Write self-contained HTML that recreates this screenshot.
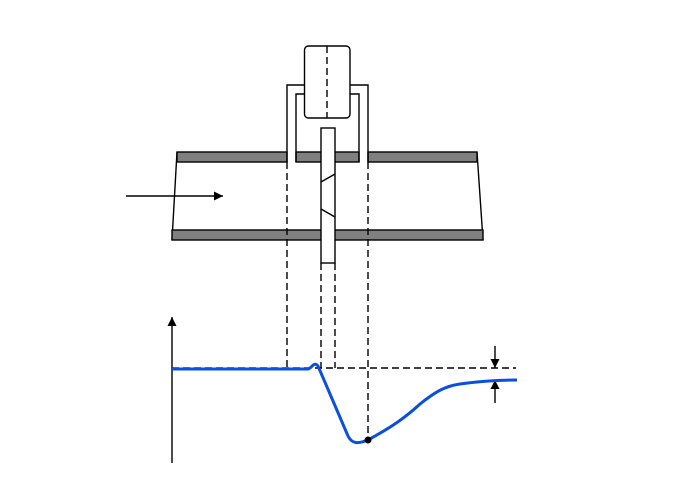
<!DOCTYPE html>
<html><head><style>body{margin:0;background:#fff}</style></head><body>
<svg width="690" height="490" viewBox="0 0 690 490" xmlns="http://www.w3.org/2000/svg">
<defs><marker id="ah" markerWidth="10" markerHeight="10" refX="9" refY="5" orient="auto" markerUnits="userSpaceOnUse"><path d="M0,0.5 L9,5 L0,9.5 z" fill="#000"/></marker></defs>
<g stroke="#000" stroke-width="1.4" fill="none">
<path d="M177,152 L172,240 M477,152 L483,240"/>
<rect x="177" y="152" width="110" height="10" fill="#808080"/>
<rect x="296" y="152" width="63" height="10" fill="#808080"/>
<rect x="368" y="152" width="109" height="10" fill="#808080"/>
<rect x="172" y="230" width="311" height="10" fill="#808080"/>
<path d="M287,162 L287,85 L368,85 L368,162"/>
<path d="M296,162 L296,94 L359,94 L359,162"/>
<rect x="304.5" y="46" width="45.5" height="72" rx="4" fill="#fff"/>
<line x1="327" y1="46" x2="327" y2="118" stroke-dasharray="7,4"/>
<rect x="321" y="128" width="14" height="135" fill="#fff"/>
<path d="M321,182 L335,174 M321,209 L335,217"/>
<g stroke-dasharray="7,4">
<line x1="287" y1="162" x2="287" y2="368"/>
<line x1="368" y1="162" x2="368" y2="440"/>
<line x1="321" y1="263" x2="321" y2="368"/>
<line x1="335" y1="263" x2="335" y2="368"/>
<line x1="172" y1="368" x2="516" y2="368"/>
</g>
<line x1="126" y1="196" x2="223" y2="196" marker-end="url(#ah)"/>
<line x1="172" y1="463" x2="172" y2="317" marker-end="url(#ah)"/>
<line x1="495" y1="346" x2="495" y2="368" marker-end="url(#ah)"/>
<line x1="495" y1="403" x2="495" y2="380" marker-end="url(#ah)"/>
</g>
<path d="M172,369 L308,369 C312,368 314,361 318,366 L348,436 C352,444 358,444 368,440 C390,428 405,418 420,404 C435,392 445,386 460,384 C480,381 500,380 517,380" stroke="#0a4fe0" stroke-width="3" fill="none"/>
<circle cx="368" cy="440" r="3.5" fill="#000"/>
</svg>
</body></html>
